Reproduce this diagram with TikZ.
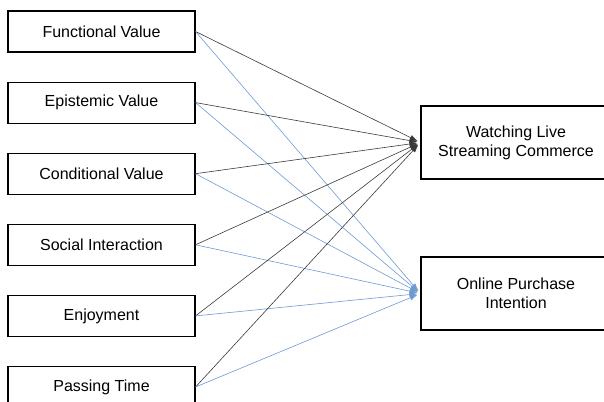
\documentclass[tikz,border=0pt]{standalone}
\usepackage{fontspec}
\setmainfont{Liberation Sans}
\usetikzlibrary{positioning}
\usetikzlibrary{arrows.meta}

\definecolor{linkgray}{HTML}{3A3A3A}
\definecolor{linkblue}{HTML}{6E9AD2}

\begin{document}
\begin{tikzpicture}[
    x=1pt, y=-1pt,
    >={Latex[length=8pt,width=5.5pt]},
    node distance=29pt,
    every node/.style={font=\fontsize{16}{19}\selectfont},
    factor/.style={draw, line width=1.1pt, minimum width=187pt, minimum height=41pt, inner sep=0pt, align=center},
    outcome/.style={draw, line width=1.1pt, minimum width=190pt, minimum height=73pt, inner sep=0pt, align=center},
    toblack/.style={->, line width=0.6pt, color=linkgray, shorten >=3pt},
    toblue/.style={->, line width=0.6pt, color=linkblue, shorten >=3pt}
]
\useasboundingbox (0,0) rectangle (604,401);
\node[factor] (fv) at (101.5,31.5) {Functional Value};
\node[factor, below=of fv] (ev) {Epistemic Value};
\node[factor, below=of ev] (cv) {Conditional Value};
\node[factor, below=of cv] (si) {Social Interaction};
\node[factor, below=of si] (enj) {Enjoyment};
\node[factor, below=of enj] (pt) {Passing Time};
\node[outcome] (wlsc) at (516,142.5) {Watching Live\\Streaming Commerce};
\node[outcome] (opi) at (516,293.5) {Online Purchase\\Intention};
\foreach \f in {fv,ev,cv,si,enj,pt} {
    \draw[toblack] (\f.east) -- (wlsc.west);
    \draw[toblue] (\f.east) -- (opi.west);
}
\end{tikzpicture}
\end{document}
